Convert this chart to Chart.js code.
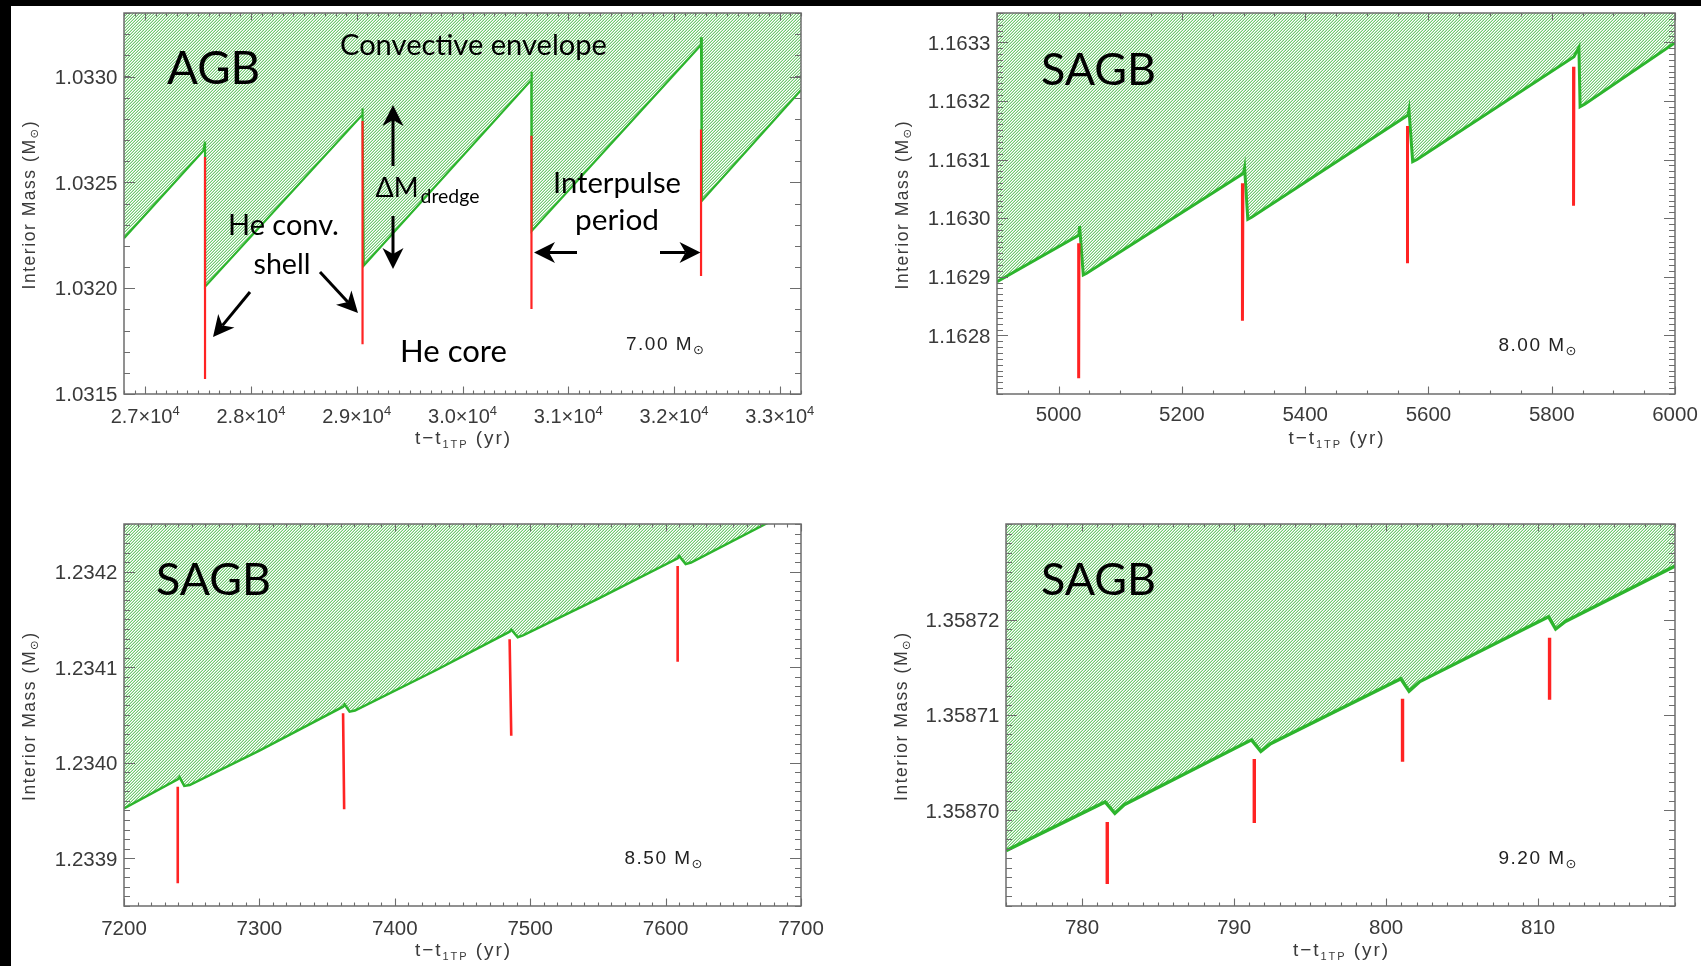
<!DOCTYPE html>
<html><head><meta charset="utf-8">
<script src="https://cdn.jsdelivr.net/npm/chart.js@4.4.1/dist/chart.umd.min.js"></script>
<style>
html,body{margin:0;padding:0;background:#fff;width:1701px;height:966px;overflow:hidden;position:relative}
#bandL{position:absolute;left:0;top:0;width:11px;height:966px;background:#000}
#bandT{position:absolute;left:0;top:0;width:1701px;height:6px;background:#000}
canvas{position:absolute}
</style></head><body>
<div id="bandL"></div><div id="bandT"></div>
<canvas id="c1" width="850" height="480" style="left:0px;top:0px"></canvas>
<canvas id="c2" width="851" height="480" style="left:850px;top:0px"></canvas>
<canvas id="c3" width="850" height="486" style="left:0px;top:480px"></canvas>
<canvas id="c4" width="851" height="486" style="left:850px;top:480px"></canvas>
<script>
// ---------------- DATA ----------------
// Panel 1: AGB, 7.00 Msun
const agbTime     = [26800, 27550, 27566, 27566, 29051, 29055, 29066, 30650, 30652, 30656, 32254, 32255, 32262, 33200];
const agbEnvelope = [1.032236, 1.032649, 1.032692, 1.032007, 1.032818, 1.032850, 1.032106, 1.032983, 1.033023, 1.032270, 1.033149, 1.033185, 1.032412, 1.032936];
const agbShellTime = [27566, 29055, 30652, 32255];
const agbShellTop  = [1.03262, 1.03279, 1.03272, 1.03275];
const agbShellBase = [1.031571, 1.031735, 1.031902, 1.032057];
const agbXTicks = [27000, 28000, 29000, 30000, 31000, 32000, 33000];
const agbYTicks = [1.0315, 1.0320, 1.0325, 1.0330];

// Panel 2: SAGB, 8.00 Msun
const s80Time     = [4900, 5033.0, 5034, 5040, 5045.5, 5299.9, 5301.7, 5306.9, 5313.7, 5566.8, 5568.4, 5574.4, 5581.4, 5836.1, 5844.1, 5846, 5854, 6000];
const s80Envelope = [1.1628916, 1.1629713, 1.1629866, 1.1629030, 1.1629059, 1.1630765, 1.1630861, 1.1629980, 1.1630020, 1.1631760, 1.1631845, 1.1630963, 1.1631001, 1.1632755, 1.1632915, 1.1631901, 1.1631947, 1.1632993];
const s80ShellTimeTop  = [5033, 5299, 5566, 5836];
const s80ShellTimeBase = [5032.5, 5298.2, 5566, 5835.4];
const s80ShellTop  = [1.1629571, 1.1630595, 1.1631572, 1.1632584];
const s80ShellBase = [1.1627268, 1.1628251, 1.1629230, 1.1630212];
const s80XTicks = [5000, 5200, 5400, 5600, 5800, 6000];
const s80YTicks = [1.1628, 1.1629, 1.1630, 1.1631, 1.1632, 1.1633];

// Panel 3: SAGB, 8.50 Msun
const s85Time     = [7200, 7239.7, 7241, 7244.5, 7248.5, 7300, 7361.8, 7363, 7366.6, 7370.6, 7430, 7484.8, 7486, 7490.8, 7494.7, 7550, 7608.9, 7610, 7614.8, 7618.8, 7673.8, 7700];
const s85Envelope = [1.2339523, 1.2339827, 1.2339850, 1.2339757, 1.2339767, 1.2340128, 1.2340587, 1.2340610, 1.2340535, 1.2340547, 1.2340966, 1.2341372, 1.2341395, 1.2341314, 1.2341333, 1.2341715, 1.2342141, 1.2342165, 1.2342081, 1.2342097, 1.23425, 1.2342693];
const s85ShellTimeTop  = [7239.7, 7361.8, 7484.8, 7608.9];
const s85ShellTimeBase = [7239.7, 7362.6, 7486.0, 7608.9];
const s85ShellTop  = [1.2339749, 1.2340518, 1.2341293, 1.2342060];
const s85ShellBase = [1.2338738, 1.2339513, 1.2340283, 1.2341058];
const s85XTicks = [7200, 7300, 7400, 7500, 7600, 7700];
const s85YTicks = [1.2339, 1.2340, 1.2341, 1.2342];

// Panel 4: SAGB, 9.20 Msun
const s92Time     = [775, 781.52, 782.16, 782.77, 791.15, 791.76, 792.40, 800.97, 801.51, 802.22, 810.68, 811.15, 811.79, 819];
const s92Envelope = [1.3586958, 1.3587009, 1.3586997, 1.3587006, 1.3587074, 1.3587062, 1.3587070, 1.3587138, 1.3587125, 1.3587135, 1.3587203, 1.3587190, 1.3587198, 1.3587256];
const s92ShellTime = [781.66, 791.33, 801.08, 810.75];
const s92ShellTop  = [1.3586988, 1.3587054, 1.3587117, 1.3587181];
const s92ShellBase = [1.3586923, 1.3586987, 1.3587051, 1.3587116];
const s92XTicks = [780, 790, 800, 810];
const s92YTicks = [1.35870, 1.35871, 1.35872];

const massLabels = ['7.00', '8.00', '8.50', '9.20'];
const phaseLabels = ['AGB', 'SAGB', 'SAGB', 'SAGB'];

// ---------------- STYLE ----------------
const AXIS_COLOR = '#6d6d6d';
const LABEL_COLOR = '#3a3a3a';
const TICK_FONT = '"Liberation Sans", Arial, "DejaVu Sans", sans-serif';
const ANNOT_FONT = 'Lato, "Open Sans", "DejaVu Sans", sans-serif';
const GREEN = '#2db52d';
const RED = '#ff2323';

function makeHatch(ctx){
  const c = document.createElement('canvas'); c.width = 3; c.height = 3;
  const g = c.getContext('2d'); const img = g.createImageData(3,3);
  const cols = [[255,255,255],[194,231,194],[112,202,112]];
  for (let y=0;y<3;y++) for (let x=0;x<3;x++){
    const k=(x+y)%3, o=(y*3+x)*4, col=cols[k];
    img.data[o]=col[0]; img.data[o+1]=col[1]; img.data[o+2]=col[2]; img.data[o+3]=255;
  }
  g.putImageData(img,0,0);
  return ctx.createPattern(c,'repeat');
}

function envPoints(ts, ms){ return ts.map((t,i)=>({x:t, y:ms[i]})); }
function shellPoints(tTop, tBase, top, base){
  const pts=[];
  for (let i=0;i<top.length;i++){
    pts.push({x:tTop[i], y:top[i]}, {x:tBase[i], y:base[i]}, {x:tBase[i], y:null});
  }
  return pts;
}

function richWidth(ctx, parts, family, spacing){
  let w=0, n=0;
  for (const pt of parts){
    ctx.font = `${pt.size}px ${family}`;
    if (spacing){ for (const ch of pt.text){ w += ctx.measureText(ch).width; n++; } }
    else { w += ctx.measureText(pt.text).width; }
  }
  return w + (spacing ? spacing*(n-1) : 0);
}
function drawRich(ctx, parts, family, x, y, align, spacing, color){
  const total = richWidth(ctx, parts, family, spacing);
  let cx = align==='center' ? x-total/2 : (align==='right' ? x-total : x);
  ctx.fillStyle = color; ctx.textAlign='left'; ctx.textBaseline='alphabetic';
  for (const pt of parts){
    ctx.font = `${pt.size}px ${family}`;
    const yy = y + (pt.dy||0);
    if (spacing){
      for (const ch of pt.text){ ctx.fillText(ch, cx, yy); cx += ctx.measureText(ch).width + spacing; }
    } else { ctx.fillText(pt.text, cx, yy); cx += ctx.measureText(pt.text).width; }
  }
}
function spacingFor(ctx, parts, family, target){
  let n=0; for (const pt of parts) n += [...pt.text].length;
  const w0 = richWidth(ctx, parts, family, 0.0001) - 0.0001*(n-1);
  return (target - w0)/(n-1);
}
function fitText(ctx, text, x, base, width, size, family, color){
  ctx.font = `${size}px ${family}`;
  const w = ctx.measureText(text).width;
  const s = size*width/w;
  ctx.font = `${s}px ${family}`;
  ctx.fillStyle = color; ctx.textAlign='left'; ctx.textBaseline='alphabetic';
  ctx.fillText(text, x, base);
  return s;
}
function arrow(ctx, x1, y1, x2, y2){
  const dx=x2-x1, dy=y2-y1, L=Math.hypot(dx,dy), ux=dx/L, uy=dy/L, nx=-uy, ny=ux;
  const hl=21, hw=10.5, notch=15;
  ctx.save(); ctx.strokeStyle='#000'; ctx.fillStyle='#000'; ctx.lineWidth=3; ctx.lineCap='butt';
  ctx.beginPath(); ctx.moveTo(x1,y1); ctx.lineTo(x2-ux*notch, y2-uy*notch); ctx.stroke();
  ctx.beginPath();
  ctx.moveTo(x2,y2);
  ctx.lineTo(x2-ux*hl+nx*hw, y2-uy*hl+ny*hw);
  ctx.lineTo(x2-ux*notch, y2-uy*notch);
  ctx.lineTo(x2-ux*hl-nx*hw, y2-uy*hl-ny*hw);
  ctx.closePath(); ctx.fill();
  ctx.restore();
}

function makeFrame(p){
  return {
    id:'frame'+p.id,
    afterDatasetsDraw(chart){
      const ctx=chart.ctx, a=chart.chartArea, xs=chart.scales.x, ys=chart.scales.y;
      ctx.save();
      ctx.strokeStyle = AXIS_COLOR; ctx.lineWidth = 1.1;
      ctx.beginPath();
      const minorX = [], minorY = [];
      let n0=Math.ceil(p.xMin/p.xMinor-1e-6), n1=Math.floor(p.xMax/p.xMinor+1e-6);
      for (let n=n0;n<=n1;n++) minorX.push(n*p.xMinor);
      n0=Math.ceil(p.yMin/p.yMinor-1e-6); n1=Math.floor(p.yMax/p.yMinor+1e-6);
      for (let n=n0;n<=n1;n++) minorY.push(n*p.yMinor);
      const tx=(v,len)=>{ const px=Math.round(xs.getPixelForValue(v))+0.5; ctx.moveTo(px,a.bottom); ctx.lineTo(px,a.bottom-len); ctx.moveTo(px,a.top); ctx.lineTo(px,a.top+len); };
      const ty=(v,len)=>{ const py=Math.round(ys.getPixelForValue(v))+0.5; ctx.moveTo(a.left,py); ctx.lineTo(a.left+len,py); ctx.moveTo(a.right,py); ctx.lineTo(a.right-len,py); };
      minorX.forEach(v=>tx(v,3.5)); p.xTicks.forEach(v=>tx(v,7.5));
      minorY.forEach(v=>ty(v,6)); p.yTicks.forEach(v=>ty(v,11));
      ctx.stroke();
      ctx.lineWidth = 1.5;
      ctx.strokeRect(a.left, a.top, a.right-a.left, a.bottom-a.top);
      p.xTicks.forEach(v=>{
        drawRich(ctx, p.xLabel(v), TICK_FONT, xs.getPixelForValue(v), p.xLabelBase, 'center', 0, LABEL_COLOR);
      });
      p.yTicks.forEach(v=>{
        drawRich(ctx, [{text:v.toFixed(p.yDec), size:20.5}], TICK_FONT, a.left-6.5, ys.getPixelForValue(v)+7.3, 'right', 0, LABEL_COLOR);
      });
      const xt=[{text:'t\u2212t', size:19},{text:'1TP', size:11, dy:3.5},{text:' (yr)', size:19}];
      drawRich(ctx, xt, TICK_FONT, (a.left+a.right)/2, p.xTitleBase, 'center', spacingFor(ctx, xt, TICK_FONT, 95), LABEL_COLOR);
      const yt=[{text:'Interior Mass (M', size:17.5},{text:'\u2299', size:11.5, dy:3},{text:')', size:17.5}];
      const sp = spacingFor(ctx, yt, TICK_FONT, 168);
      ctx.translate(p.yTitleX, (a.top+a.bottom)/2+2);
      ctx.rotate(-Math.PI/2);
      drawRich(ctx, yt, TICK_FONT, 0, 6, 'center', sp, LABEL_COLOR);
      ctx.restore();
    }
  };
}

function makeNotes(p){
  return {
    id:'notes'+p.id,
    afterDraw(chart){
      const ctx=chart.ctx;
      ctx.save();
      fitText(ctx, p.phase, p.phasePos[0], p.phasePos[1], 115*(p.phase==='AGB'?0.81:1), 42, ANNOT_FONT, '#000');
      const ml=[{text:p.mass+' M', size:19},{text:'\u2299', size:13, dy:4}];
      drawRich(ctx, ml, TICK_FONT, p.massPos[0], p.massPos[1], 'left', spacingFor(ctx, ml, TICK_FONT, 78), '#222');
      if (p.extra) p.extra(ctx);
      ctx.restore();
    }
  };
}

function agbExtra(ctx){
  fitText(ctx, 'Convective envelope', 340, 54.5, 267, 31, ANNOT_FONT, '#000');
  fitText(ctx, 'He conv.', 228, 234.5, 111, 29, ANNOT_FONT, '#000');
  fitText(ctx, 'shell', 253.5, 273.5, 57, 29, ANNOT_FONT, '#000');
  fitText(ctx, 'Interpulse', 553, 192.5, 128, 29, ANNOT_FONT, '#000');
  fitText(ctx, 'period', 575, 229.5, 84, 29, ANNOT_FONT, '#000');
  fitText(ctx, 'He core', 400, 362, 107, 29, ANNOT_FONT, '#000');
  fitText(ctx, '\u0394M', 375.5, 197, 43, 28, ANNOT_FONT, '#000');
  fitText(ctx, 'dredge', 420.5, 202.5, 59, 20, ANNOT_FONT, '#000');
  arrow(ctx, 393, 166, 393, 105);
  arrow(ctx, 393, 216, 393, 269);
  arrow(ctx, 250, 292, 213, 337);
  arrow(ctx, 320, 272, 358, 313);
  arrow(ctx, 577, 252.5, 534, 252.5);
  arrow(ctx, 660, 252.5, 700.5, 252.5);
}

const panels = [
  {id:1, canvas:'c1', pad:{left:124, top:13, right:49, bottom:86},
   xMin:26800, xMax:33200, yMin:1.0315, yMax:1.0333, xMinor:100, yMinor:0.0001,
   xTicks:agbXTicks, yTicks:agbYTicks, yDec:4,
   xLabel:v=>[{text:(v/1e4).toFixed(1)+'\u00d710', size:20},{text:'4', size:13, dy:-8}],
   xLabelBase:422.5, xTitleBase:444, yTitleX:29,
   env:envPoints(agbTime, agbEnvelope), shell:shellPoints(agbShellTime, agbShellTime, agbShellTop, agbShellBase),
   greenW:2.2, redW:2.2, phase:phaseLabels[0], phasePos:[167,84], mass:massLabels[0], massPos:[626,350], extra:agbExtra},
  {id:2, canvas:'c2', pad:{left:147, top:13, right:26, bottom:86},
   xMin:4900, xMax:6000, yMin:1.1627, yMax:1.16335, xMinor:50, yMinor:0.00001,
   xTicks:s80XTicks, yTicks:s80YTicks, yDec:4,
   xLabel:v=>[{text:String(v), size:20.5}],
   xLabelBase:421, xTitleBase:444, yTitleX:52,
   env:envPoints(s80Time, s80Envelope), shell:shellPoints(s80ShellTimeTop, s80ShellTimeBase, s80ShellTop, s80ShellBase),
   greenW:3, redW:3, phase:phaseLabels[1], phasePos:[191,84.5], mass:massLabels[1], massPos:[648.5,350.5]},
  {id:3, canvas:'c3', pad:{left:124, top:44, right:49, bottom:60},
   xMin:7200, xMax:7700, yMin:1.23385, yMax:1.23425, xMinor:10, yMinor:0.00001,
   xTicks:s85XTicks, yTicks:s85YTicks, yDec:4,
   xLabel:v=>[{text:String(v), size:20.5}],
   xLabelBase:455, xTitleBase:476, yTitleX:29,
   env:envPoints(s85Time, s85Envelope), shell:shellPoints(s85ShellTimeTop, s85ShellTimeBase, s85ShellTop, s85ShellBase),
   greenW:2.5, redW:2.6, phase:phaseLabels[2], phasePos:[156,115], mass:massLabels[2], massPos:[624.5,384]},
  {id:4, canvas:'c4', pad:{left:156, top:44, right:26, bottom:60},
   xMin:775, xMax:819, yMin:1.35869, yMax:1.35873, xMinor:1, yMinor:0.000001,
   xTicks:s92XTicks, yTicks:s92YTicks, yDec:5,
   xLabel:v=>[{text:String(v), size:20.5}],
   xLabelBase:454, xTitleBase:476, yTitleX:51,
   env:envPoints(s92Time, s92Envelope), shell:shellPoints(s92ShellTime, s92ShellTime, s92ShellTop, s92ShellBase),
   greenW:3.4, redW:3.4, phase:phaseLabels[3], phasePos:[191,115], mass:massLabels[3], massPos:[648.5,384]}
];

panels.forEach(p=>{
  const ctx = document.getElementById(p.canvas).getContext('2d');
  new Chart(ctx, {
    type:'line',
    data:{datasets:[
      {label:'He convective shell', data:p.shell, borderColor:RED, borderWidth:p.redW, pointRadius:0, fill:false, spanGaps:false, order:0},
      {label:'Convective envelope', data:p.env, borderColor:GREEN, borderWidth:p.greenW, pointRadius:0, fill:'end', backgroundColor:makeHatch(ctx), order:1}
    ]},
    options:{
      responsive:false, animation:false, devicePixelRatio:1, events:[],
      layout:{padding:p.pad},
      scales:{
        x:{type:'linear', min:p.xMin, max:p.xMax, display:false},
        y:{type:'linear', min:p.yMin, max:p.yMax, display:false}
      },
      plugins:{legend:{display:false}, tooltip:{enabled:false}}
    },
    plugins:[makeFrame(p), makeNotes(p)]
  });
});
</script>
</body></html>
